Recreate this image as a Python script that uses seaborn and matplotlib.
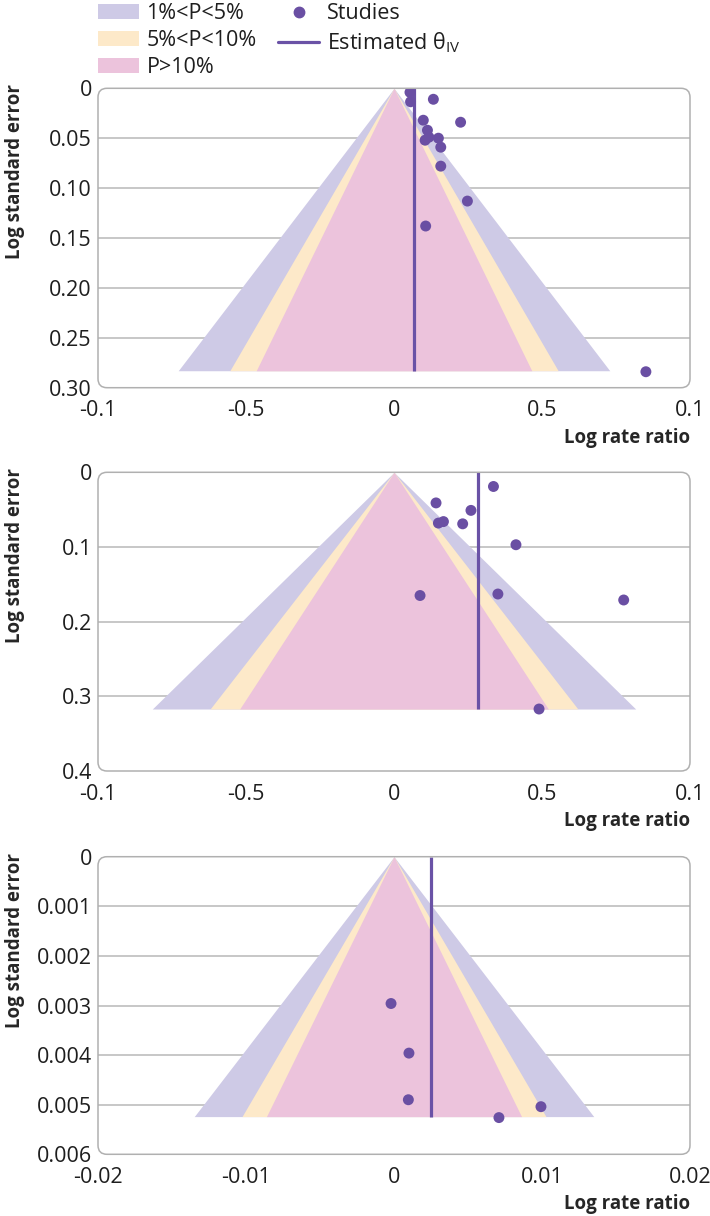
import numpy as np
import pandas as pd
import seaborn as sns
import matplotlib.pyplot as plt
from matplotlib.patches import Patch, FancyBboxPatch
from matplotlib.lines import Line2D
from matplotlib.ticker import FixedLocator

# ---------------- data ----------------
# Panel 1
p1_lrr = [0.054, 0.056, 0.133, 0.099, 0.225, 0.113, 0.118, 0.105, 0.150, 0.158, 0.158, 0.248, 0.107, 0.851]
p1_se = [0.004, 0.0135, 0.011, 0.032, 0.034, 0.042, 0.049, 0.052, 0.050, 0.059, 0.078, 0.113, 0.138, 0.284]
p1_est = 0.069
p1_se_max = 0.283
p1_xticks = [-1, -0.5, 0, 0.5, 1]
p1_xticklabels = ["-0.1", "-0.5", "0", "0.5", "0.1"]
p1_yticks = [0, 0.05, 0.10, 0.15, 0.20, 0.25, 0.30]
p1_yticklabels = ["0", "0.05", "0.10", "0.15", "0.20", "0.25", "0.30"]

# Panel 2
p2_lrr = [0.336, 0.142, 0.260, 0.150, 0.167, 0.232, 0.412, 0.088, 0.351, 0.776, 0.490]
p2_se = [0.019, 0.041, 0.051, 0.068, 0.066, 0.069, 0.097, 0.165, 0.163, 0.171, 0.317]
p2_est = 0.285
p2_se_max = 0.317
p2_xticks = [-1, -0.5, 0, 0.5, 1]
p2_xticklabels = ["-0.1", "-0.5", "0", "0.5", "0.1"]
p2_yticks = [0, 0.1, 0.2, 0.3, 0.4]
p2_yticklabels = ["0", "0.1", "0.2", "0.3", "0.4"]

# Panel 3
p3_lrr = [-0.0002, 0.00101, 0.00097, 0.00993, 0.00709]
p3_se = [0.00296, 0.00396, 0.0049, 0.00504, 0.00526]
p3_est = 0.00248
p3_se_max = 0.00524
p3_xticks = [-0.02, -0.01, 0, 0.01, 0.02]
p3_xticklabels = ["-0.02", "-0.01", "0", "0.01", "0.02"]
p3_yticks = [0, 0.001, 0.002, 0.003, 0.004, 0.005, 0.006]
p3_yticklabels = ["0", "0.001", "0.002", "0.003", "0.004", "0.005", "0.006"]

# contour levels (z for two-sided P = 1%, 5%, 10%)
z_levels = [2.576, 1.96, 1.645]
band_labels = ["1%<P<5%", "5%<P<10%", "P>10%"]

# ---------------- style ----------------
C_PURPLE_BAND = "#cecae6"
C_YELLOW_BAND = "#fde9c9"
C_PINK_BAND = "#ecc3dc"
C_POINT = "#6a4fa3"
C_LINE = "#6a52a6"
C_GRID = "#b8b8b8"
C_TEXT = "#1e1e1e"
band_colors = [C_PURPLE_BAND, C_YELLOW_BAND, C_PINK_BAND]

sns.set_theme(style="white")
plt.rcParams['font.family'] = ['Open Sans', 'DejaVu Sans']
plt.rcParams['mathtext.fontset'] = 'custom'
plt.rcParams['mathtext.rm'] = 'Open Sans'
plt.rcParams['mathtext.it'] = 'Open Sans:italic'
plt.rcParams['text.color'] = C_TEXT
plt.rcParams['xtick.color'] = C_TEXT
plt.rcParams['ytick.color'] = C_TEXT

TICK_FS = 15.5
LEG_FS = 15.5
LAB_FS = 13.5

W, H = 710, 1216
fig = plt.figure(figsize=(W / 100, H / 100), dpi=100)
fig.patch.set_facecolor("white")

panels = [
    dict(lrr=p1_lrr, se=p1_se, est=p1_est, se_max=p1_se_max, xt=p1_xticks, xtl=p1_xticklabels,
         yt=p1_yticks, ytl=p1_yticklabels, top=88.3, bottom=387.7),
    dict(lrr=p2_lrr, se=p2_se, est=p2_est, se_max=p2_se_max, xt=p2_xticks, xtl=p2_xticklabels,
         yt=p2_yticks, ytl=p2_yticklabels, top=472.3, bottom=771.0),
    dict(lrr=p3_lrr, se=p3_se, est=p3_est, se_max=p3_se_max, xt=p3_xticks, xtl=p3_xticklabels,
         yt=p3_yticks, ytl=p3_yticklabels, top=856.7, bottom=1154.3),
]

LEFT, RIGHT = 98, 690
for p in panels:
    l = LEFT / W
    w = (RIGHT - LEFT) / W
    b = 1 - p["bottom"] / H
    h = (p["bottom"] - p["top"]) / H
    ax = fig.add_axes([l, b, w, h])
    ax.set_facecolor("none")
    ax.set_xlim(p["xt"][0], p["xt"][-1])
    ax.set_ylim(p["yt"][-1], p["yt"][0])

    # gridlines
    for yv in p["yt"][1:-1]:
        ax.axhline(yv, color=C_GRID, lw=1.1, zorder=0)

    # funnel contours
    se_edge = np.array([0.0, p["se_max"]])
    for z, col in zip(z_levels, band_colors):
        ax.fill_betweenx(se_edge, -z * se_edge, z * se_edge, color=col, lw=0, zorder=1)

    # estimate line
    ax.plot([p["est"], p["est"]], [0, p["se_max"]], color=C_LINE, lw=2.3, zorder=3,
            solid_capstyle="butt")

    # studies
    df = pd.DataFrame({"lrr": p["lrr"], "se": p["se"]})
    sns.scatterplot(data=df, x="lrr", y="se", ax=ax, color=C_POINT, s=62,
                    edgecolor="none", linewidth=0, zorder=5, legend=False)

    for s in ax.spines.values():
        s.set_visible(False)

    ax.set_xticks(p["xt"])
    ax.set_xticklabels(p["xtl"], fontsize=TICK_FS)
    ax.xaxis.set_minor_locator(FixedLocator(p["xt"][1:-1]))
    ax.tick_params(axis="x", which="major", length=0, pad=9.0, bottom=False)
    ax.tick_params(axis="x", which="minor", length=4, width=1.1, color=C_GRID, bottom=True)
    ax.set_yticks(p["yt"])
    ax.set_yticklabels(p["ytl"], fontsize=TICK_FS)
    ax.tick_params(axis="y", which="both", length=0, pad=4.5, left=False)

    ax.set_xlabel("Log rate ratio", fontsize=LAB_FS, fontweight="bold", loc="right")
    ax.xaxis.set_label_coords(1.0, -50 / (p["bottom"] - p["top"]))
    ax.xaxis.label.set_verticalalignment("center")
    ax.set_ylabel("Log standard error", fontsize=LAB_FS, fontweight="bold")
    ax.yaxis.label.set_rotation_mode("anchor")
    ax.yaxis.label.set_horizontalalignment("right")
    ax.yaxis.label.set_verticalalignment("center")
    ax.yaxis.set_label_coords(-(LEFT - 15) / (RIGHT - LEFT), 1 + 4 / (p["bottom"] - p["top"]))

    # rounded frame
    r = 9 / W
    frame = FancyBboxPatch((l, b), w, h, boxstyle=f"round,pad=0,rounding_size={r}",
                           mutation_aspect=W / H, transform=fig.transFigure,
                           facecolor="none", edgecolor="#b0b0b0", lw=1.1, zorder=10)
    fig.add_artist(frame)

# legend
handles = [Patch(facecolor=c, edgecolor="none") for c in band_colors]
handles += [Line2D([], [], marker="o", ls="none", color=C_POINT, markersize=7.5),
            Line2D([], [], color=C_LINE, lw=2.3)]
labels = band_labels + ["Studies", r"Estimated θ$_{\mathregular{IV}}$"]
fig.legend(handles, labels, loc="upper left", bbox_to_anchor=(LEFT / W, 1 - 3 / H),
           ncol=2, frameon=False, fontsize=LEG_FS, handlelength=1.9, handleheight=0.68,
           handletextpad=0.35, columnspacing=1.0, labelspacing=0.28, borderpad=0,
           borderaxespad=0)

fig.savefig("out.png", dpi=100, facecolor="white")
